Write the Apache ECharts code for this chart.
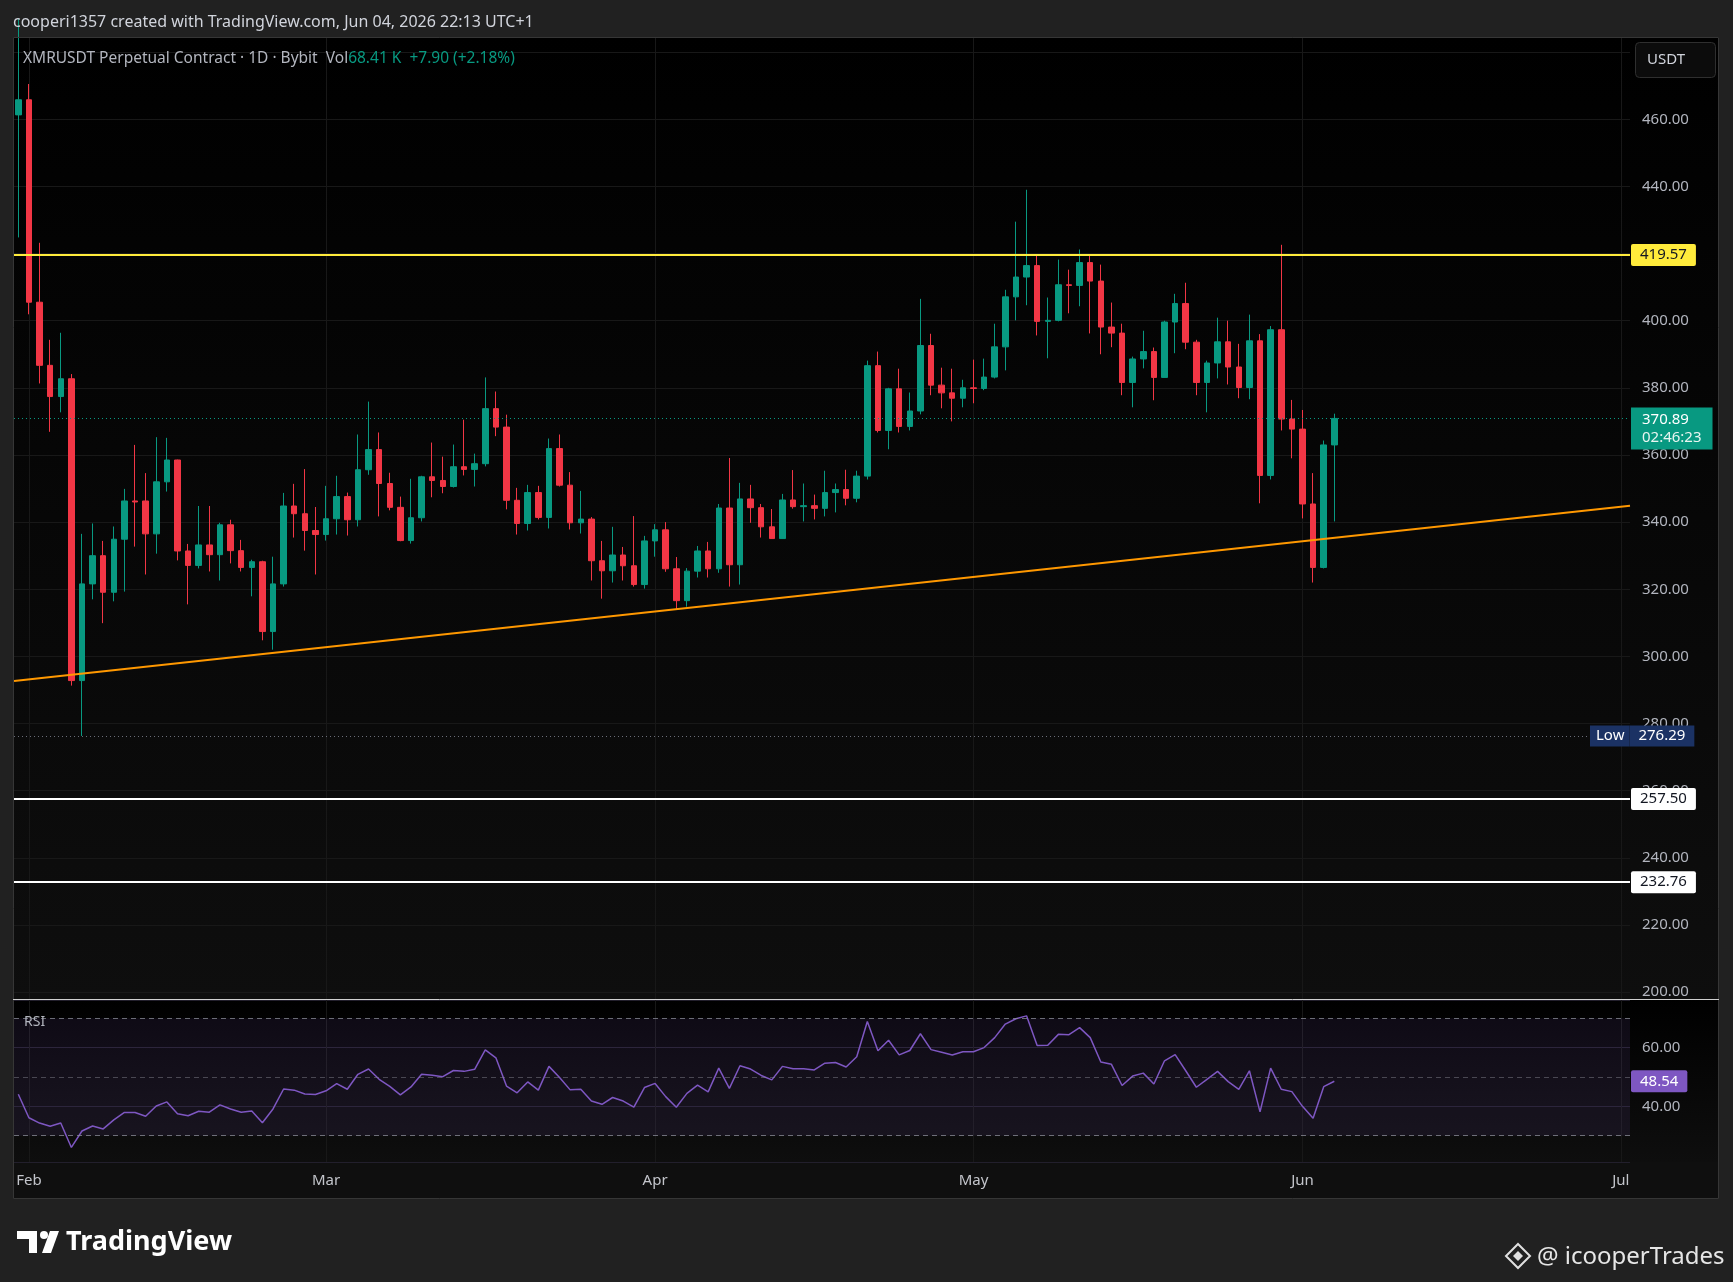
<!DOCTYPE html>
<html><head><meta charset="utf-8">
<script src="https://cdn.jsdelivr.net/npm/echarts@6/dist/echarts.min.js"></script>
<style>html,body{margin:0;padding:0;background:#212121}#c{width:1733px;height:1282px}</style>
</head><body><div id="c"></div>
<script>
// ---------------- data ----------------
const firstDay = '2026-01-31';
const openP = [461.3,465.8,405.5,386.7,377.4,382.7,292.8,321.6,330.0,319.1,
 334.9,346.3,346.3,336.5,352.0,358.5,331.4,327.1,333.2,330.3,
 339.2,331.5,326.5,328.2,307.4,321.6,344.8,342.5,337.5,336.3,
 341.0,347.6,340.7,355.6,361.6,351.5,344.4,334.5,341.3,353.5,
 352.4,350.6,356.5,355.7,357.4,373.8,368.3,346.5,339.6,348.8,
 341.4,361.9,351.0,339.8,340.9,328.5,325.5,330.2,327.0,321.4,
 334.4,337.7,326.1,316.6,325.4,331.4,326.1,344.2,327.3,346.9,
 344.3,338.6,335.1,346.6,344.6,344.9,344.1,348.8,349.7,347.1,
 353.7,386.6,367.3,379.7,368.5,373.1,392.6,380.8,378.5,376.9,
 380.0,379.8,383.2,392.2,407.1,413.0,416.4,399.8,400.1,410.7,
 410.5,417.3,411.8,398.1,396.3,381.6,388.6,390.8,383.1,399.6,
 405.1,393.6,381.6,387.4,393.7,386.2,380.1,394.0,353.9,397.3,
 370.7,367.7,345.4,326.5,362.99];
const closeP = [465.8,405.5,386.7,377.4,382.7,292.8,321.6,330.0,319.1,334.9,
 346.3,346.0,336.5,352.0,358.5,331.4,327.1,333.2,330.3,339.2,
 331.5,326.5,328.2,307.4,321.6,344.8,342.5,337.5,336.3,341.0,
 347.6,340.7,355.6,361.6,351.5,344.4,334.5,341.3,353.5,352.4,
 350.6,356.5,355.7,357.4,373.8,368.3,346.5,339.6,348.8,341.4,
 361.9,351.0,339.8,340.9,328.5,325.5,330.2,327.0,321.4,334.4,
 337.7,326.1,316.6,325.4,331.4,326.1,344.2,327.3,346.9,344.3,
 338.6,335.1,346.6,344.6,344.9,344.1,348.8,349.7,347.1,353.7,
 386.6,367.3,379.7,368.5,373.1,392.6,380.8,378.5,376.9,380.0,
 379.8,383.2,392.2,407.1,413.0,416.4,399.8,400.1,410.7,410.5,
 417.3,411.8,398.1,396.3,381.6,388.6,390.8,383.1,399.6,405.1,
 393.6,381.6,387.4,393.7,386.2,380.1,394.0,353.9,397.3,370.7,
 367.7,345.4,326.5,362.99,370.89];
const highP = [490,470.5,423.2,394.3,396.4,384.1,336.5,339.6,334.4,338.7,
 349.9,363.0,354.6,365.3,365.1,358.6,333.5,344.8,344.8,339.8,
 340.7,334.7,328.8,328.5,329.7,348.7,351.4,355.8,344.5,350.8,
 353.8,348.8,366.1,375.9,366.7,354.7,347.6,352.9,353.8,363.7,
 359.5,363.1,370.5,360.4,383.1,378.9,372.0,350.2,351.1,350.8,
 364.9,366.1,354.9,349.3,341.5,334.4,338.6,332.6,341.8,335.9,
 339.4,340.0,329.6,326.3,332.9,334.1,345.4,359.1,351.7,351.1,
 345.4,343.9,348.4,355.5,351.5,348.2,355.3,351.5,355.6,355.3,
 388.1,390.8,380.0,385.7,378.6,406.5,396.1,386.0,385.7,382.4,
 388.4,388.7,399.1,409.2,429.5,439.0,419.7,406.9,418.2,415.2,
 421.2,419.7,416.7,405.4,399.1,389.3,397.0,392.0,400.0,408.0,
 411.3,394.3,388.1,400.9,400.0,393.1,401.8,396.0,398.4,422.6,
 376.4,373.4,354.6,364.3,372.3];
const lowP = [424.8,401.9,381.3,366.9,372.7,291.3,276.29,317.0,309.9,316.4,
 319.3,332.7,324.4,330.6,349.1,328.6,315.5,326.2,325.3,322.6,
 327.7,325.3,317.9,304.8,302.0,320.8,335.4,331.5,324.4,334.5,
 336.3,336.0,338.7,354.1,341.7,343.5,334.3,333.6,340.2,347.4,
 348.6,350.3,353.9,350.6,356.6,365.6,343.8,336.3,337.5,340.8,
 338.1,350.6,337.8,336.6,322.6,317.2,322.0,322.6,320.8,320.2,
 329.7,325.2,313.9,314.8,323.5,323.5,324.9,320.8,321.4,339.8,
 335.4,335.0,335.0,344.0,340.2,340.8,341.7,342.9,345.0,345.9,
 352.7,366.7,361.7,366.7,367.3,372.1,377.8,373.9,370.0,374.2,
 375.4,379.3,382.8,385.2,400.1,404.6,395.6,388.8,399.8,402.2,
 404.3,396.2,390.0,392.1,377.8,374.2,385.8,376.3,383.0,390.3,
 391.5,377.8,372.7,382.8,381.0,376.9,376.6,345.6,352.7,367.3,
 359.0,341.1,322.0,326.2,340.2];
const rsiVals = [44.1,36.1,34.3,33.2,34.3,26.0,31.6,33.3,32.3,35.4,
 37.9,37.9,36.6,40.1,41.5,37.5,36.8,38.3,38.0,40.5,
 39.1,38.0,38.4,34.4,39.1,45.9,45.5,44.2,44.0,45.3,
 47.7,45.8,50.9,52.7,49.2,46.8,43.9,46.6,50.9,50.6,
 50.1,52.2,51.9,52.6,59.2,56.5,46.9,44.6,48.3,45.5,
 53.6,49.8,45.6,45.8,41.8,40.7,43.0,41.8,39.7,46.4,
 47.8,43.3,39.7,44.4,47.2,44.9,53.0,46.1,53.8,52.7,
 50.5,49.0,53.6,52.8,52.8,52.4,54.7,54.9,53.4,56.9,
 68.9,58.9,62.5,57.5,59.0,64.7,59.3,58.4,57.5,58.6,
 58.6,60.0,63.4,68.0,69.8,70.8,60.7,60.8,64.5,64.4,
 66.8,63.4,55.1,54.3,47.1,50.3,51.3,47.6,55.5,57.6,
 52.1,46.5,49.2,51.9,48.4,45.8,52.1,38.1,53.0,45.8,
 45.0,40.0,35.9,46.7,48.54];
const monthStarts = ['2026-02-01','2026-03-01','2026-04-01','2026-05-01','2026-06-01','2026-07-01'];
const monthLabels = ['Feb','Mar','Apr','May','Jun','Jul'];
const priceTicks = [200,220,240,260,280,300,320,340,360,380,400,420,440,460];
const rsiTicks = [40,60];
const resistance = 419.57;
const supportLevels = [257.50, 232.76];
const lastPrice = 370.89;
const countdown = '02:46:23';
const trendAnchors = [['2026-02-05', 294.5], ['2026-06-04', 335.3]];
const rsiBands = [70, 50, 30];
const rsiLast = 48.54;

// ---------------- helpers ----------------
const FONT = '"Noto Sans", "DejaVu Sans", sans-serif';
const dayIdx = d => Math.round((Date.parse(d) - Date.parse(firstDay)) / 86400000);
const monthIdx = monthStarts.map(dayIdx);
const X_MIN = -0.405, X_MAX = 151.86;
const lowPrice = Math.min(...lowP);
const candles = openP.map((o, i) => [i, o, closeP[i], lowP[i], highP[i]]);
const rsiData = rsiVals.map((v, i) => [i, v]);
const a0 = [dayIdx(trendAnchors[0][0]), trendAnchors[0][1]];
const a1 = [dayIdx(trendAnchors[1][0]), trendAnchors[1][1]];
const slope = (a1[1] - a0[1]) / (a1[0] - a0[0]);
const trendAt = x => a0[1] + (x - a0[0]) * slope;
const near = (v, arr) => arr.some(t => Math.abs(t - v) < 1e-6);

function tag(bg, fg, text) {
  return {show: true, position: 'end', distance: 1, formatter: text, backgroundColor: bg,
    color: fg, fontSize: 15, fontFamily: FONT, padding: [3, 9, 3, 9], lineHeight: 16, borderRadius: 2};
}

const UP = '#089981', DOWN = '#f23645';
const GRIDC = '#181818';

const option = {
  animation: false,
  backgroundColor: '#212121',
  textStyle: {fontFamily: FONT},
  grid: [
    {left: 14, top: 37, width: 1616, height: 962, containLabel: false, outerBoundsMode: 'none'},
    {left: 14, top: 1000, width: 1616, height: 162, containLabel: false, outerBoundsMode: 'none'}
  ],
  xAxis: [
    {type: 'value', gridIndex: 0, min: X_MIN, max: X_MAX,
     axisLine: {show: false}, axisLabel: {show: false},
     axisTick: {show: false, customValues: monthIdx},
     splitLine: {show: true, lineStyle: {color: GRIDC, width: 1}}},
    {type: 'value', gridIndex: 1, min: X_MIN, max: X_MAX,
     axisLine: {show: false},
     axisTick: {show: false, customValues: monthIdx},
     axisLabel: {show: true, customValues: monthIdx, color: '#c3c5cb', fontSize: 15, margin: 11, fontFamily: FONT,
       formatter: v => { const k = monthIdx.indexOf(Math.round(v)); return k >= 0 ? monthLabels[k] : ''; }},
     splitLine: {show: true, lineStyle: {color: GRIDC, width: 1}}}
  ],
  yAxis: [
    {type: 'value', gridIndex: 0, position: 'right', min: 197.95, max: 484.5,
     minInterval: 20, maxInterval: 20, splitNumber: 14, scale: true,
     axisLine: {show: false}, axisTick: {show: false},
     axisLabel: {color: '#b2b5be', fontSize: 15, margin: 12, fontFamily: FONT,
       formatter: v => near(v, priceTicks) ? v.toFixed(2) : ''},
     splitLine: {show: true, lineStyle: {color: GRIDC, width: 1}}},
    {type: 'value', gridIndex: 1, position: 'right', min: 21.04, max: 76.2,
     minInterval: 20, maxInterval: 20, scale: true,
     axisLine: {show: false}, axisTick: {show: false},
     axisLabel: {color: '#b2b5be', fontSize: 15, margin: 12, fontFamily: FONT,
       formatter: v => near(v, rsiTicks) ? v.toFixed(2) : ''},
     splitLine: {show: true, lineStyle: {color: '#221f2c', width: 1}}}
  ],
  series: [
    {type: 'candlestick', xAxisIndex: 0, yAxisIndex: 0, data: candles, barWidth: 6, clip: true,
     itemStyle: {color: UP, color0: DOWN, borderColor: UP, borderColor0: DOWN, borderWidth: 1},
     emphasis: {disabled: true},
     markLine: {
       silent: true, symbol: ['none', 'none'], animation: false,
       data: [
         [{coord: [X_MIN, trendAt(X_MIN)], lineStyle: {color: '#ff9800', width: 2, type: 'solid'}, label: {show: false}},
          {coord: [X_MAX, trendAt(X_MAX)], lineStyle: {color: '#ff9800', width: 2, type: 'solid'}, label: {show: false}}],
         {yAxis: lowPrice, lineStyle: {color: '#6a6d78', width: 1, type: [1, 3]},
          label: {show: true, position: 'end', distance: 1, offset: [-41, 0],
            formatter: '{a|Low}{b|' + lowPrice.toFixed(2) + '}',
            rich: {a: {backgroundColor: '#1b3264', color: '#ffffff', fontSize: 15, fontFamily: FONT, padding: [3, 5, 3, 6], lineHeight: 16},
                   b: {backgroundColor: '#1b3264', color: '#ffffff', fontSize: 15, fontFamily: FONT, padding: [3, 9, 3, 9], lineHeight: 16}}}},
         {yAxis: lastPrice, lineStyle: {color: UP, width: 1, type: [1, 3]},
          label: {show: true, position: 'end', distance: 1, offset: [0, 10],
            formatter: '{p|' + lastPrice.toFixed(2) + '}\n{t|' + countdown + '}',
            backgroundColor: UP, padding: [3, 11, 3, 11],
            rich: {p: {color: '#ffffff', fontSize: 15, fontFamily: FONT, lineHeight: 18},
                   t: {color: '#e8f5f1', fontSize: 15, fontFamily: FONT, lineHeight: 18}}}},
         {yAxis: resistance, lineStyle: {color: '#ffeb3b', width: 2, type: 'solid'},
          label: tag('#ffeb3b', '#131722', resistance.toFixed(2))},
         {yAxis: supportLevels[0], lineStyle: {color: '#ffffff', width: 2, type: 'solid'},
          label: tag('#ffffff', '#131722', supportLevels[0].toFixed(2))},
         {yAxis: supportLevels[1], lineStyle: {color: '#ffffff', width: 2, type: 'solid'},
          label: tag('#ffffff', '#131722', supportLevels[1].toFixed(2))}
       ]
     }},
    {type: 'line', xAxisIndex: 1, yAxisIndex: 1, data: rsiData, symbol: 'none', showSymbol: false,
     lineStyle: {color: '#7e57c2', width: 1.5}, emphasis: {disabled: true},
     markArea: {silent: true, itemStyle: {color: 'rgba(126,87,194,0.11)'},
       data: [[{yAxis: rsiBands[2]}, {yAxis: rsiBands[0]}]]},
     markLine: {
       silent: true, symbol: ['none', 'none'], animation: false,
       data: [
         {yAxis: rsiBands[0], lineStyle: {color: 'rgba(140,143,154,0.75)', width: 1, type: [5, 4]}, label: {show: false}},
         {yAxis: rsiBands[1], lineStyle: {color: 'rgba(140,143,154,0.45)', width: 1, type: [5, 4]}, label: {show: false}},
         {yAxis: rsiBands[2], lineStyle: {color: 'rgba(140,143,154,0.75)', width: 1, type: [5, 4]}, label: {show: false}},
         {yAxis: rsiLast, lineStyle: {color: 'rgba(0,0,0,0)', width: 1}, label: tag('#7e57c2', '#ffffff', rsiLast.toFixed(2))}
       ]
     }}
  ],
  graphic: [
    // pane backgrounds
    {type: 'rect', z: -10, shape: {x: 13, y: 37, width: 1706, height: 962},
     style: {fill: {type: 'linear', x: 0, y: 0, x2: 0, y2: 1, colorStops: [{offset: 0, color: '#000000'}, {offset: 1, color: '#0e0e0e'}]}}},
    {type: 'rect', z: -10, shape: {x: 13, y: 999, width: 1706, height: 163},
     style: {fill: {type: 'linear', x: 0, y: 0, x2: 0, y2: 1, colorStops: [{offset: 0, color: '#000000'}, {offset: 1, color: '#0e0e0e'}]}}},
    {type: 'rect', z: -10, shape: {x: 13, y: 1162, width: 1706, height: 37}, style: {fill: '#0f0f0f'}},
    {type: 'rect', z: 50, shape: {x: 13.5, y: 37.5, width: 1705, height: 1161}, style: {fill: 'none', stroke: '#363636', lineWidth: 1}},
    {type: 'line', z: 50, shape: {x1: 13, y1: 999.5, x2: 1719, y2: 999.5}, style: {stroke: '#cfcfcf', lineWidth: 1}},
    // header
    {type: 'text', z: 60, x: 13, y: 22, style: {text: 'cooperi1357 created with TradingView.com, Jun 04, 2026 22:13 UTC+1',
      fill: '#d1d4dc', fontSize: 16, fontFamily: FONT, verticalAlign: 'middle', align: 'left'}},
    {type: 'text', z: 60, x: 23, y: 59, style: {
      text: '{g|XMRUSDT Perpetual Contract · 1D · Bybit  Vol}{v|68.41 K  +7.90 (+2.18%)}',
      rich: {g: {fill: '#b2b5be', fontSize: 15.5, fontFamily: FONT}, v: {fill: '#089981', fontSize: 15.5, fontFamily: FONT}},
      verticalAlign: 'middle', align: 'left'}},
    // USDT box
    {type: 'rect', z: 60, shape: {x: 1635.5, y: 42.5, width: 80, height: 35, r: 4}, style: {fill: '#0c0c0c', stroke: '#2f2f2f', lineWidth: 1}},
    {type: 'text', z: 61, x: 1647, y: 60, style: {text: 'USDT', fill: '#d1d4dc', fontSize: 15, fontFamily: FONT, align: 'left', verticalAlign: 'middle'}},
    // RSI title
    {type: 'text', z: 60, x: 24, y: 1022, style: {text: 'RSI', fill: '#b2b5be', fontSize: 14, fontFamily: FONT, verticalAlign: 'middle'}},
    // TradingView logo
    {type: 'rect', z: 60, shape: {x: 17, y: 1231, width: 20, height: 8}, style: {fill: '#ffffff'}},
    {type: 'rect', z: 60, shape: {x: 29, y: 1231, width: 8, height: 22}, style: {fill: '#ffffff'}},
    {type: 'circle', z: 60, shape: {cx: 44, cy: 1235, r: 4}, style: {fill: '#ffffff'}},
    {type: 'polygon', z: 60, shape: {points: [[50, 1231], [59, 1231], [51, 1253], [42, 1253]]}, style: {fill: '#ffffff'}},
    {type: 'text', z: 60, x: 66, y: 1242, style: {text: 'TradingView', fill: '#ffffff', fontSize: 27, fontWeight: 'bold', fontFamily: FONT, verticalAlign: 'middle'}},
    // watermark
    {type: 'polygon', z: 60, shape: {points: [[1518, 1244], [1530, 1256], [1518, 1268], [1506, 1256]]}, style: {fill: 'none', stroke: '#e0e0e0', lineWidth: 2}},
    {type: 'polygon', z: 60, shape: {points: [[1518, 1251], [1523, 1256], [1518, 1261], [1513, 1256]]}, style: {fill: '#e0e0e0'}},
    {type: 'text', z: 60, x: 1537, y: 1257, style: {text: '@ icooperTrades', fill: '#e6e6e6', fontSize: 24, fontFamily: FONT, verticalAlign: 'middle'}}
  ]
};

const chart = echarts.init(document.getElementById('c'), null, {renderer: 'canvas'});
chart.setOption(option);
</script></body></html>
